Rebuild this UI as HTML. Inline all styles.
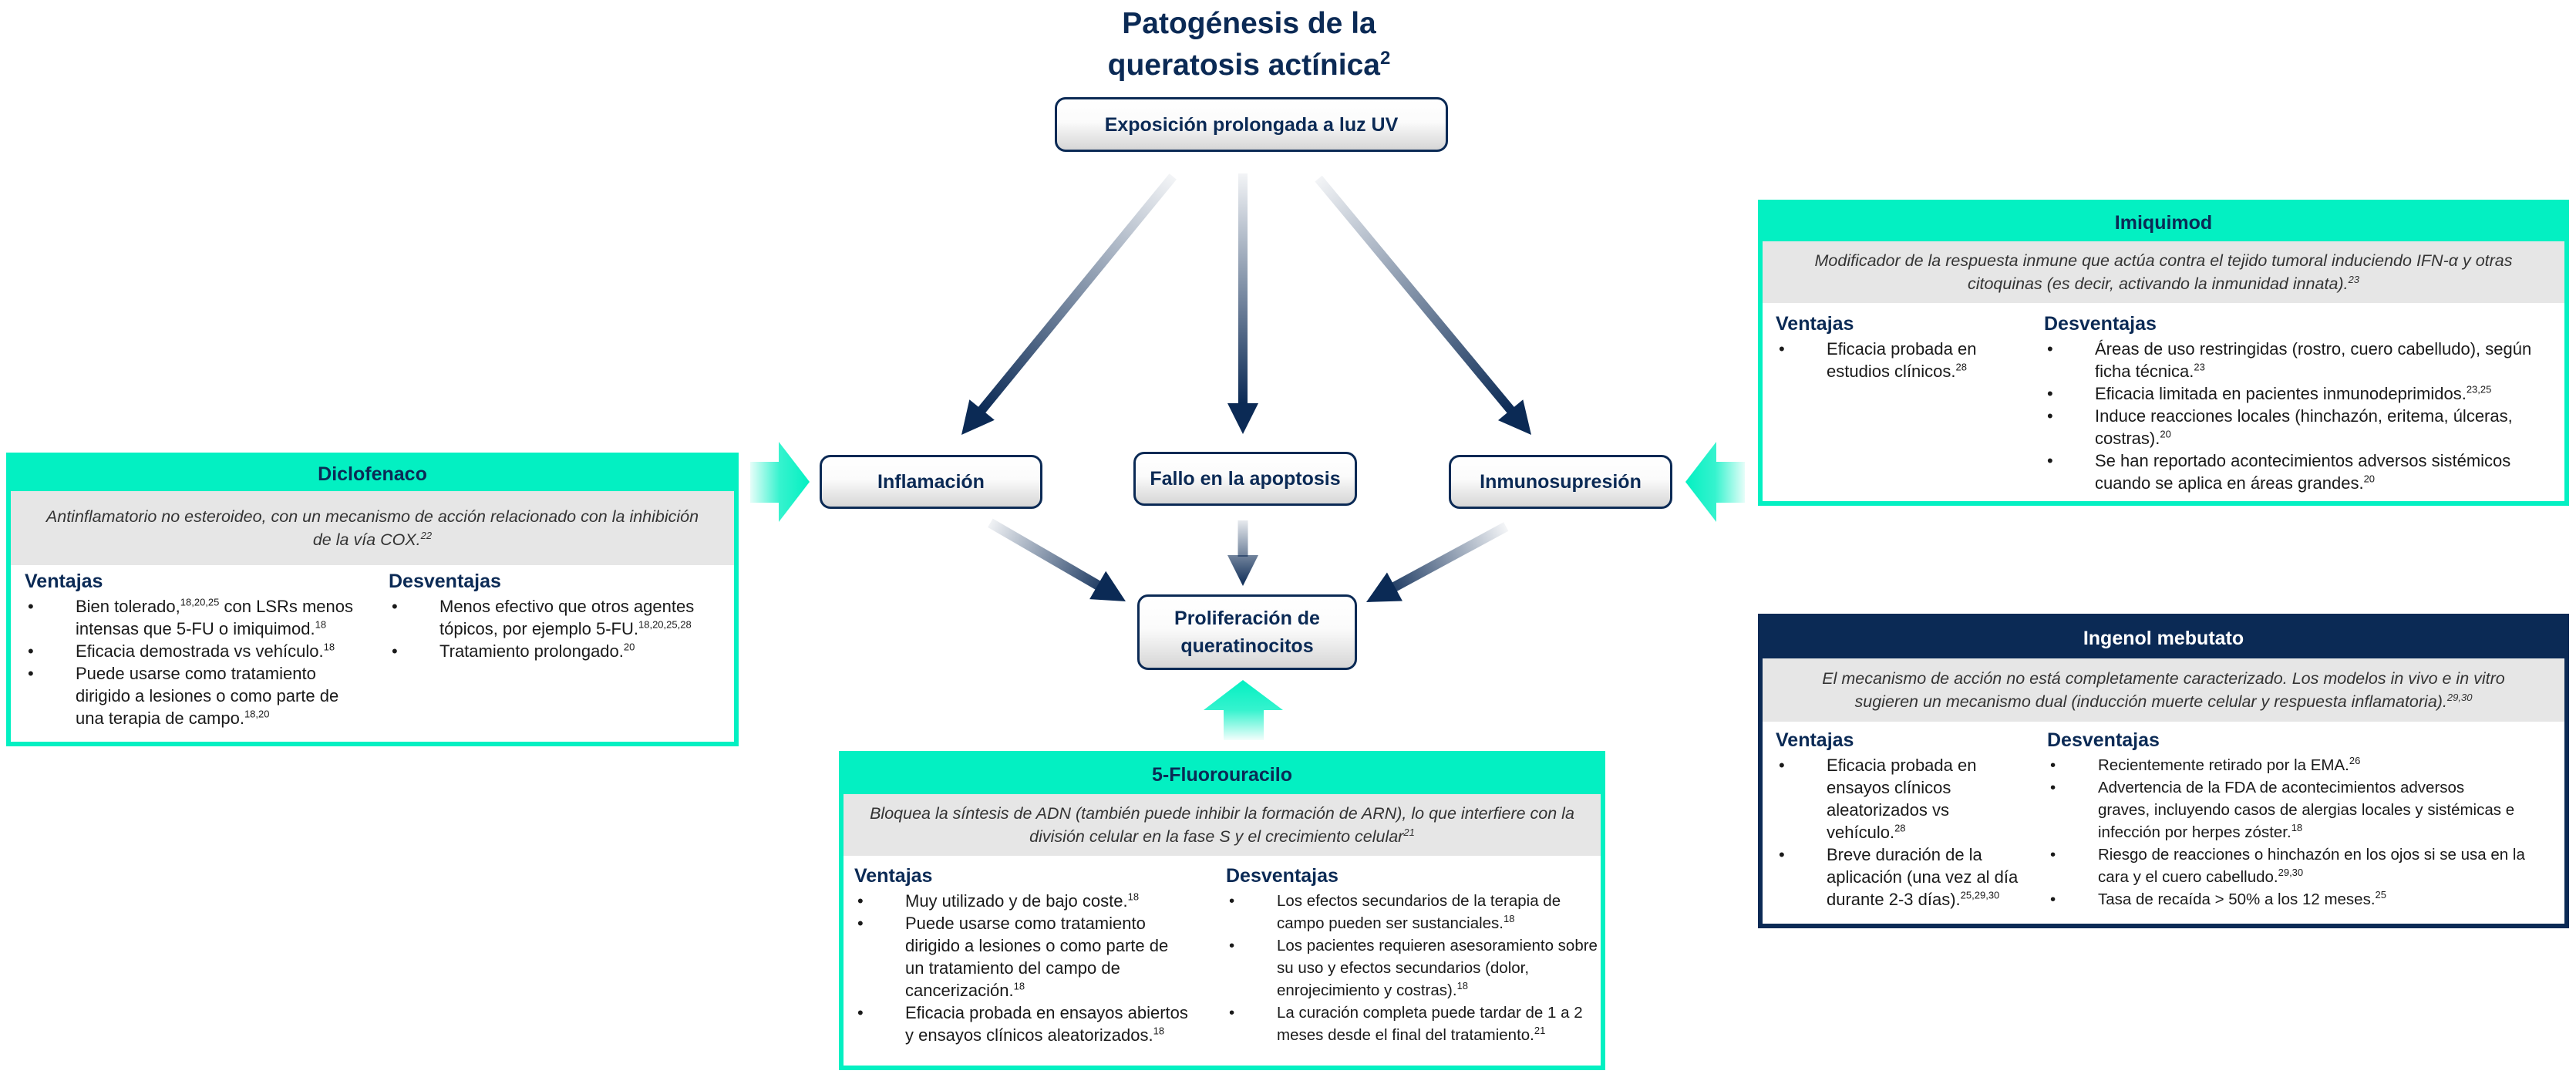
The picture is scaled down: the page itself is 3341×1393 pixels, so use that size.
<!DOCTYPE html>
<html><head><meta charset="utf-8">
<style>
*{margin:0;padding:0;box-sizing:border-box}
body{width:3341px;height:1393px;background:#fff;position:relative;overflow:hidden;font-family:"Liberation Sans",sans-serif;color:#1a1a1a}
.abs{position:absolute}
.title{left:1320px;width:600px;top:4px;text-align:center;font-weight:bold;color:#0b2a55;font-size:39px;line-height:54px}
.title sup{font-size:24px;vertical-align:super;line-height:0}
.node{position:absolute;border:3px solid #0b2a55;border-radius:14px;background:linear-gradient(#ffffff 0%,#fbfbfb 45%,#d6d6d6 100%);color:#0b2a55;font-weight:bold;font-size:25px;display:flex;align-items:center;justify-content:center;text-align:center;line-height:36px}
.box{position:absolute;border:6px solid #03f0c2;background:#fff}
.box.navy{border-color:#0b2a55}
.hd{position:absolute;left:0;right:0;top:0;background:#03f0c2;color:#0b2a55;font-weight:bold;font-size:25px;display:flex;align-items:center;justify-content:center}
.navy .hd{background:#0b2a55;color:#fff}
.gr{position:absolute;left:0;right:0;background:#e6e6e6;font-style:italic;color:#333;font-size:21.5px;line-height:30px;text-align:center;display:flex;align-items:center;justify-content:center}
.gr>div{white-space:nowrap}
.col{position:absolute;font-size:22px;line-height:29px;white-space:nowrap}
.col.sm{font-size:20.5px}
.col h4{font-size:25px;color:#0b2a55;font-weight:bold;line-height:30px;margin-bottom:3px}
.li{position:relative;padding-left:66px}
.li::before{content:"•";position:absolute;left:4px;top:0}
sup.s{font-size:13px;vertical-align:super;line-height:0}
</style></head><body>

<div class="abs title">Patogénesis de la<br>queratosis actínica<sup>2</sup></div>

<div class="node" style="left:1368px;top:126px;width:510px;height:71px">Exposición prolongada a luz UV</div>
<div class="node" style="left:1063px;top:590px;width:289px;height:70px">Inflamación</div>
<div class="node" style="left:1470px;top:586px;width:290px;height:70px">Fallo en la apoptosis</div>
<div class="node" style="left:1879px;top:590px;width:290px;height:70px">Inmunosupresión</div>
<div class="node" style="left:1475px;top:771px;width:285px;height:98px">Proliferación de<br>queratinocitos</div>

<svg class="abs" style="left:0;top:0" width="3341" height="1393">
<defs>
<linearGradient id="g1" gradientUnits="userSpaceOnUse" x1="-433" y1="0" x2="-40" y2="0"><stop offset="0" stop-color="#0b2a55" stop-opacity="0.05"/><stop offset="1" stop-color="#0b2a55"/></linearGradient>
<linearGradient id="g2" gradientUnits="userSpaceOnUse" x1="-338" y1="0" x2="-40" y2="0"><stop offset="0" stop-color="#0b2a55" stop-opacity="0.05"/><stop offset="1" stop-color="#0b2a55"/></linearGradient>
<linearGradient id="g3" gradientUnits="userSpaceOnUse" x1="-205" y1="0" x2="-20" y2="0"><stop offset="0" stop-color="#0b2a55" stop-opacity="0.05"/><stop offset="1" stop-color="#0b2a55"/></linearGradient>
<linearGradient id="g4" gradientUnits="userSpaceOnUse" x1="-85" y1="0" x2="0" y2="0"><stop offset="0" stop-color="#0b2a55" stop-opacity="0.1"/><stop offset="1" stop-color="#0b2a55"/></linearGradient>
<linearGradient id="gl" x1="0" y1="0" x2="1" y2="0"><stop offset="0" stop-color="#03f0c2" stop-opacity="0.1"/><stop offset="0.5" stop-color="#03f0c2" stop-opacity="0.8"/><stop offset="1" stop-color="#03f0c2"/></linearGradient>
<linearGradient id="gr" x1="1" y1="0" x2="0" y2="0"><stop offset="0" stop-color="#03f0c2" stop-opacity="0.1"/><stop offset="0.5" stop-color="#03f0c2" stop-opacity="0.8"/><stop offset="1" stop-color="#03f0c2"/></linearGradient>
<linearGradient id="gu" x1="0" y1="1" x2="0" y2="0"><stop offset="0" stop-color="#03f0c2" stop-opacity="0.05"/><stop offset="0.5" stop-color="#03f0c2" stop-opacity="0.8"/><stop offset="1" stop-color="#03f0c2"/></linearGradient>
</defs>
<g transform="translate(1247,564) rotate(129.3)"><line x1="-433" y1="0" x2="-38" y2="0" stroke="url(#g1)" stroke-width="12"/><polygon points="0,0 -42,-21 -42,21" fill="#0b2a55"/></g>
<g transform="translate(1612,563) rotate(90)"><line x1="-338" y1="0" x2="-38" y2="0" stroke="url(#g2)" stroke-width="12"/><polygon points="0,0 -40,-20 -40,20" fill="#0b2a55"/></g>
<g transform="translate(1986,564) rotate(50.3)"><line x1="-432" y1="0" x2="-38" y2="0" stroke="url(#g1)" stroke-width="12"/><polygon points="0,0 -42,-21 -42,21" fill="#0b2a55"/></g>
<g transform="translate(1460,780) rotate(30.1)"><line x1="-203" y1="0" x2="-38" y2="0" stroke="url(#g3)" stroke-width="13"/><polygon points="0,0 -42,-21 -42,21" fill="#0b2a55"/></g>
<g transform="translate(1612,760) rotate(90)"><line x1="-85" y1="0" x2="-38" y2="0" stroke="url(#g4)" stroke-width="13"/><polygon points="0,0 -40,-20 -40,20" fill="url(#g4)"/></g>
<g transform="translate(1772,781) rotate(151.6)"><line x1="-206" y1="0" x2="-38" y2="0" stroke="url(#g3)" stroke-width="13"/><polygon points="0,0 -42,-21 -42,21" fill="#0b2a55"/></g>
<polygon points="973,599 1010,599 1010,573 1050,625 1010,677 1010,652 973,652" fill="url(#gl)"/>
<polygon points="2263,599 2226,599 2226,573 2186,625 2226,677 2226,652 2263,652" fill="url(#gr)"/>
<polygon points="1587,960 1587,921 1561,921 1612,882 1664,921 1639,921 1639,960" fill="url(#gu)"/>
</svg>

<!-- Diclofenaco -->
<div class="box" style="left:8px;top:587px;width:950px;height:381px">
  <div class="hd" style="height:44px">Diclofenaco</div>
  <div class="gr" style="top:44px;height:96px"><div>Antinflamatorio no esteroideo, con un mecanismo de acción relacionado con la inhibición<br>de la vía COX.<sup class="s">22</sup></div></div>
</div>
<div class="col" style="left:32px;top:739px">
  <h4>Ventajas</h4>
  <div class="li">Bien tolerado,<sup class="s">18,20,25</sup> con LSRs menos<br>intensas que 5-FU o imiquimod.<sup class="s">18</sup></div>
  <div class="li">Eficacia demostrada vs vehículo.<sup class="s">18</sup></div>
  <div class="li">Puede usarse como tratamiento<br>dirigido a lesiones o como parte de<br>una terapia de campo.<sup class="s">18,20</sup></div>
</div>
<div class="col" style="left:504px;top:739px">
  <h4>Desventajas</h4>
  <div class="li">Menos efectivo que otros agentes<br>tópicos, por ejemplo 5-FU.<sup class="s">18,20,25,28</sup></div>
  <div class="li">Tratamiento prolongado.<sup class="s">20</sup></div>
</div>

<!-- Imiquimod -->
<div class="box" style="left:2280px;top:259px;width:1052px;height:397px">
  <div class="hd" style="height:48px">Imiquimod</div>
  <div class="gr" style="top:48px;height:80px"><div>Modificador de la respuesta inmune que actúa contra el tejido tumoral induciendo IFN-α y otras<br>citoquinas (es decir, activando la inmunidad innata).<sup class="s">23</sup></div></div>
</div>
<div class="col" style="left:2303px;top:405px">
  <h4>Ventajas</h4>
  <div class="li">Eficacia probada en<br>estudios clínicos.<sup class="s">28</sup></div>
</div>
<div class="col" style="left:2651px;top:405px">
  <h4>Desventajas</h4>
  <div class="li">Áreas de uso restringidas (rostro, cuero cabelludo), según<br>ficha técnica.<sup class="s">23</sup></div>
  <div class="li">Eficacia limitada en pacientes inmunodeprimidos.<sup class="s">23,25</sup></div>
  <div class="li">Induce reacciones locales (hinchazón, eritema, úlceras,<br>costras).<sup class="s">20</sup></div>
  <div class="li">Se han reportado acontecimientos adversos sistémicos<br>cuando se aplica en áreas grandes.<sup class="s">20</sup></div>
</div>

<!-- Ingenol -->
<div class="box navy" style="left:2280px;top:796px;width:1052px;height:408px">
  <div class="hd" style="height:52px">Ingenol mebutato</div>
  <div class="gr" style="top:52px;height:82px"><div>El mecanismo de acción no está completamente caracterizado. Los modelos in vivo e in vitro<br>sugieren un mecanismo dual (inducción muerte celular y respuesta inflamatoria).<sup class="s">29,30</sup></div></div>
</div>
<div class="col" style="left:2303px;top:945px">
  <h4>Ventajas</h4>
  <div class="li">Eficacia probada en<br>ensayos clínicos<br>aleatorizados vs<br>vehículo.<sup class="s">28</sup></div>
  <div class="li">Breve duración de la<br>aplicación (una vez al día<br>durante 2-3 días).<sup class="s">25,29,30</sup></div>
</div>
<div class="col sm" style="left:2655px;top:945px">
  <h4>Desventajas</h4>
  <div class="li">Recientemente retirado por la EMA.<sup class="s">26</sup></div>
  <div class="li">Advertencia de la FDA de acontecimientos adversos<br>graves, incluyendo casos de alergias locales y sistémicas e<br>infección por herpes zóster.<sup class="s">18</sup></div>
  <div class="li">Riesgo de reacciones o hinchazón en los ojos si se usa en la<br>cara y el cuero cabelludo.<sup class="s">29,30</sup></div>
  <div class="li">Tasa de recaída &gt; 50% a los 12 meses.<sup class="s">25</sup></div>
</div>

<!-- 5-FU -->
<div class="box" style="left:1088px;top:974px;width:994px;height:414px">
  <div class="hd" style="height:50px">5-Fluorouracilo</div>
  <div class="gr" style="top:50px;height:80px"><div>Bloquea la síntesis de ADN (también puede inhibir la formación de ARN), lo que interfiere con la<br>división celular en la fase S y el crecimiento celular<sup class="s">21</sup></div></div>
</div>
<div class="col" style="left:1108px;top:1121px">
  <h4>Ventajas</h4>
  <div class="li">Muy utilizado y de bajo coste.<sup class="s">18</sup></div>
  <div class="li">Puede usarse como tratamiento<br>dirigido a lesiones o como parte de<br>un tratamiento del campo de<br>cancerización.<sup class="s">18</sup></div>
  <div class="li">Eficacia probada en ensayos abiertos<br>y ensayos clínicos aleatorizados.<sup class="s">18</sup></div>
</div>
<div class="col sm" style="left:1590px;top:1121px">
  <h4>Desventajas</h4>
  <div class="li">Los efectos secundarios de la terapia de<br>campo pueden ser sustanciales.<sup class="s">18</sup></div>
  <div class="li">Los pacientes requieren asesoramiento sobre<br>su uso y efectos secundarios (dolor,<br>enrojecimiento y costras).<sup class="s">18</sup></div>
  <div class="li">La curación completa puede tardar de 1 a 2<br>meses desde el final del tratamiento.<sup class="s">21</sup></div>
</div>

</body></html>
